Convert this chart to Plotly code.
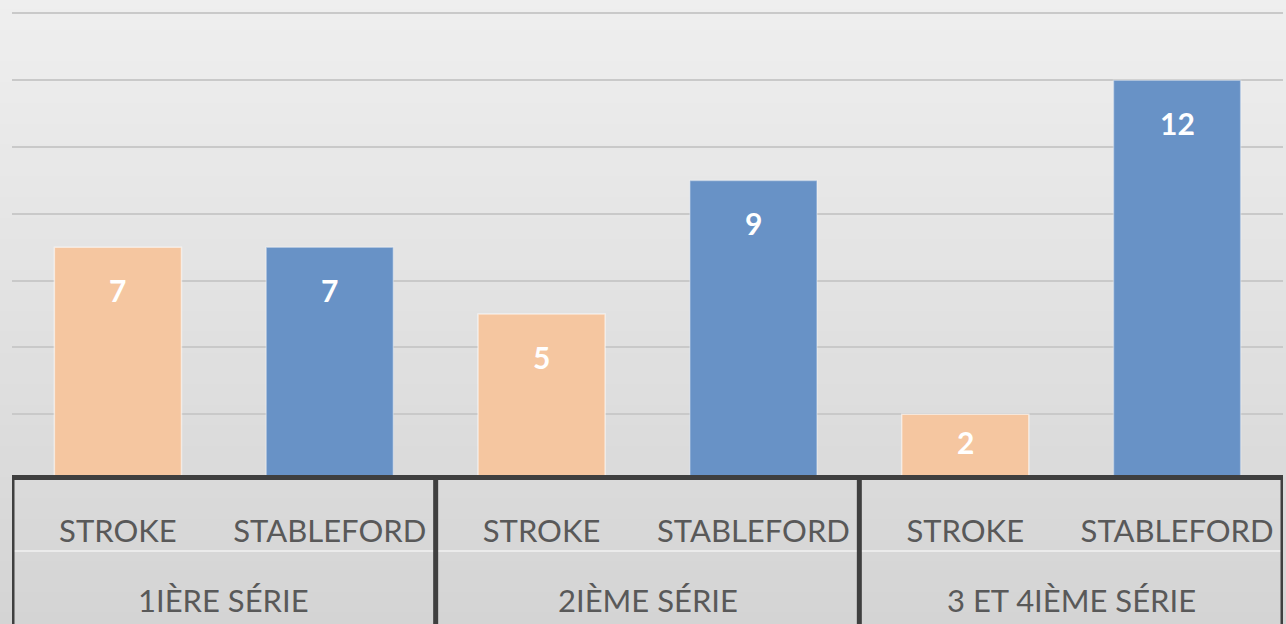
import plotly.graph_objects as go

# ---- data ----
groups = ["1IÈRE SÉRIE", "2IÈME SÉRIE", "3 ET 4IÈME SÉRIE"]
types = ["STROKE", "STABLEFORD"]
stroke_vals = [7, 5, 2]
stableford_vals = [7, 9, 12]

W, H = 1286, 624
ML, MR, MT, MB = 12, 3, 0, 149
plot_h = H - MT - MB          # 475 px
px_per_unit = 33.4
zero_px = 481                 # pixel row of value 0 (just under axis line)
y_min = (zero_px - plot_h) / px_per_unit
y_max = zero_px / px_per_unit

orange = "#F5C6A0"
blue = "#6892C6"
label_color = "#595959"
font_family = "Lato, 'Open Sans', sans-serif"
axis_color = "#3f3f3f"

n_t = len(types)
x_stroke = [gi * n_t + 0 for gi in range(len(groups))]
x_stable = [gi * n_t + 1 for gi in range(len(groups))]

fig = go.Figure()
fig.add_trace(go.Bar(
    x=x_stroke, y=stroke_vals, name=types[0],
    marker=dict(color=orange, line=dict(color="rgba(255,255,255,0.55)", width=1.5)),
    width=0.6,
))
fig.add_trace(go.Bar(
    x=x_stable, y=stableford_vals, name=types[1],
    marker=dict(color=blue, line=dict(color="rgba(255,255,255,0.35)", width=1.5)),
    width=0.6,
))

annotations = []
# data labels (inside end, white bold)
for xs, vals in [(x_stroke, stroke_vals), (x_stable, stableford_vals)]:
    for x, v in zip(xs, vals):
        bar_px = v * px_per_unit
        shift = -min(43, 0.42 * bar_px)
        annotations.append(dict(
            x=x, y=v, xref="x", yref="y", text=str(v), showarrow=False,
            yshift=shift, yanchor="middle",
            font=dict(family=font_family, size=30, color="white", weight="bold"),
        ))
# group labels (second row of category axis)
grp_y = -(600 - plot_h) / plot_h
for gi, g in enumerate(groups):
    annotations.append(dict(
        x=gi * n_t + (n_t - 1) / 2, y=grp_y, xref="x", yref="paper",
        text=g, showarrow=False, yanchor="middle", xanchor="center",
        font=dict(family=font_family, size=31, color=label_color),
    ))

shapes = []
# gradient background bands
n_bands = 60
top_c = (239, 239, 239)
bot_c = (212, 212, 212)
y_bottom_paper = -MB / plot_h
for i in range(n_bands):
    t0 = i / n_bands
    t1 = (i + 1) / n_bands
    y1 = 1 - t0 * (1 - y_bottom_paper)
    y0 = 1 - t1 * (1 - y_bottom_paper)
    tm = (t0 + t1) / 2
    c = tuple(round(top_c[k] + (bot_c[k] - top_c[k]) * tm) for k in range(3))
    shapes.append(dict(
        type="rect", xref="paper", yref="paper",
        x0=-0.02, x1=1.02, y0=y0 - 0.002, y1=y1 + 0.002,
        fillcolor="rgb(%d,%d,%d)" % c, line=dict(width=0), layer="below",
    ))
# faint separator line between label rows
sep_y = -(551 - plot_h) / plot_h
shapes.append(dict(
    type="line", xref="paper", yref="paper", x0=0, x1=1, y0=sep_y, y1=sep_y,
    line=dict(color="rgba(245,245,245,0.9)", width=1.5), layer="above",
))
# group dividers
for gi in range(len(groups) + 1):
    xd = gi * n_t - 0.5
    shapes.append(dict(
        type="line", xref="x", yref="paper", x0=xd, x1=xd,
        y0=-2.5 / plot_h, y1=y_bottom_paper - 0.02,
        line=dict(color=axis_color, width=5), layer="above",
    ))

fig.update_layout(
    width=W, height=H,
    margin=dict(l=ML, r=MR, t=MT, b=MB, pad=0),
    paper_bgcolor="#e2e2e2",
    plot_bgcolor="rgba(0,0,0,0)",
    barmode="overlay",
    showlegend=False,
    font=dict(family=font_family, size=31, color=label_color),
    annotations=annotations,
    shapes=shapes,
)
fig.update_xaxes(
    range=[-0.5, len(groups) * n_t - 0.5],
    tickmode="array",
    tickvals=x_stroke + x_stable,
    ticktext=[types[0]] * len(groups) + [types[1]] * len(groups),
    showline=True, linecolor=axis_color, linewidth=5,
    ticks="outside", ticklen=25, tickcolor="rgba(0,0,0,0)",
    tickfont=dict(family=font_family, size=31, color=label_color),
    showgrid=False, zeroline=False,
)
fig.update_yaxes(
    range=[y_min, y_max],
    dtick=2, tick0=0,
    showgrid=True, gridcolor="#c9c9c9", gridwidth=2,
    showticklabels=False, zeroline=False, showline=False, ticks="",
)

fig.write_html("out.html", config={"displayModeBar": False},
               post_script="document.body.style.margin='0';")
